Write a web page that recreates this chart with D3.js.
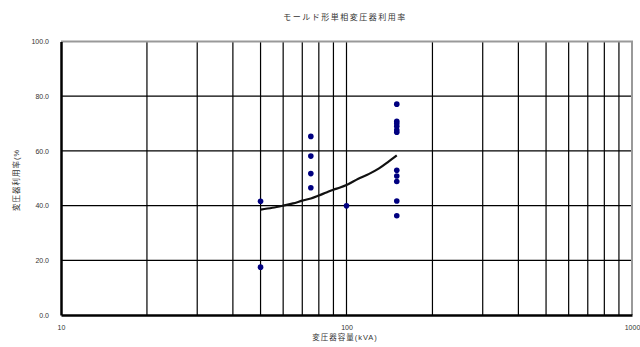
<!DOCTYPE html>
<html>
<head>
<meta charset="utf-8">
<script src="https://cdn.jsdelivr.net/npm/d3@7"></script>
<style>
  body { margin: 0; background: #fff; }
  text { font-family: "Liberation Sans", "Noto Sans CJK JP", sans-serif; fill: #333; }
</style>
</head>
<body>
<div class="plot"></div>
<script>
// DATA
var w = 640;
var h = 347;
var xTicks = [10, 100, 1000];
var yTicks = [0, 20, 40, 60, 80, 100];
// measured points (kVA, %)
var pointKva = [50, 50, 75, 75, 75, 75, 100, 150, 150, 150, 150, 150, 150, 150, 150, 150, 150, 150];
var pointPct = [41.6, 17.5, 65.3, 58.1, 51.7, 46.5, 39.9, 77.1, 70.8, 70.0, 69.0, 67.6, 66.8, 52.9, 50.8, 48.8, 41.7, 36.3];
// fitted curve
var curveKva = [50, 55, 60, 65, 70, 75, 80, 85, 90, 95, 100, 110, 120, 130, 140, 150];
var curvePct = [38.5, 39.2, 40.0, 40.8, 41.8, 42.6, 43.7, 44.8, 45.8, 46.6, 47.5, 49.8, 51.6, 53.6, 56.0, 58.4];

var pLeft = 61, pRight = 632, pTop = 41.5, pBottom = 315;

var svg = d3.select(".plot").append("svg").attr("width", w).attr("height", h);

// SCALES
var xScale = d3.scaleLog().domain([10, 1000]).range([pLeft, pRight]);
var yScale = d3.scaleLinear().domain([0, 100]).range([pBottom, pTop]);

// title
svg.append("text")
  .attr("x", 345).attr("y", 20)
  .attr("text-anchor", "middle")
  .attr("font-size", "8px")
  .attr("letter-spacing", "1.5px")
  .text("モールド形単相変圧器利用率");

// gridlines vertical
var minor = [];
[10, 100].forEach(function (d) {
  for (var k = 2; k <= 9; k++) minor.push(d * k);
});
minor.push(100);
svg.append("g").selectAll("line")
  .data(minor)
  .enter().append("line")
  .attr("x1", function (d) { return xScale(d); })
  .attr("x2", function (d) { return xScale(d); })
  .attr("y1", pTop).attr("y2", pBottom)
  .attr("stroke", "#000").attr("stroke-width", 1.2);

// gridlines horizontal
svg.append("g").selectAll("line")
  .data([20, 40, 60, 80])
  .enter().append("line")
  .attr("x1", pLeft).attr("x2", pRight)
  .attr("y1", function (d) { return yScale(d); })
  .attr("y2", function (d) { return yScale(d); })
  .attr("stroke", "#000").attr("stroke-width", 1.2);

// border top / right (gray)
svg.append("path")
  .attr("d", "M" + pLeft + "," + pTop + "H" + pRight + "V" + pBottom)
  .attr("fill", "none").attr("stroke", "#999").attr("stroke-width", 2);

// AXES
var yAxis = d3.axisLeft(yScale).tickValues(yTicks).tickSize(0).tickPadding(12)
  .tickFormat(function (d) { return d.toFixed(1); });
var gy = svg.append("g").attr("transform", "translate(" + pLeft + ",0)").call(yAxis);
gy.select(".domain").attr("stroke", "#000").attr("stroke-width", 2.5);
gy.selectAll("text").attr("font-size", "7px").attr("fill", "#333")
  .attr("font-family", "Liberation Sans, sans-serif");

var xAxis = d3.axisBottom(xScale).tickValues(xTicks).tickSize(0).tickPadding(10)
  .tickFormat(d3.format("d"));
var gx = svg.append("g").attr("transform", "translate(0," + pBottom + ")").call(xAxis);
gx.select(".domain").attr("stroke", "#000").attr("stroke-width", 2.5);
gx.selectAll("text").attr("font-size", "7px").attr("fill", "#333")
  .attr("font-family", "Liberation Sans, sans-serif");

// axis labels
svg.append("text")
  .attr("x", 345).attr("y", 340)
  .attr("text-anchor", "middle")
  .attr("font-size", "7.5px")
  .attr("letter-spacing", "1px")
  .text("変圧器容量(kVA)");

svg.append("text")
  .attr("transform", "translate(19," + 180 + ") rotate(-90)")
  .attr("text-anchor", "middle")
  .attr("font-size", "7.5px")
  .attr("letter-spacing", "1px")
  .text("変圧器利用率(%");

// curve
var curveData = curveKva.map(function (k, i) { return [k, curvePct[i]]; });
var line = d3.line()
  .x(function (d) { return xScale(d[0]); })
  .y(function (d) { return yScale(d[1]); })
  .curve(d3.curveMonotoneX);
svg.append("path")
  .datum(curveData)
  .attr("d", line)
  .attr("fill", "none")
  .attr("stroke", "#111")
  .attr("stroke-width", 2.2);

// points
var pts = pointKva.map(function (k, i) { return [k, pointPct[i]]; });
svg.append("g").selectAll("circle")
  .data(pts)
  .enter().append("circle")
  .attr("cx", function (d) { return xScale(d[0]); })
  .attr("cy", function (d) { return yScale(d[1]); })
  .attr("r", 2.8)
  .attr("fill", "#000080");
</script>
</body>
</html>
